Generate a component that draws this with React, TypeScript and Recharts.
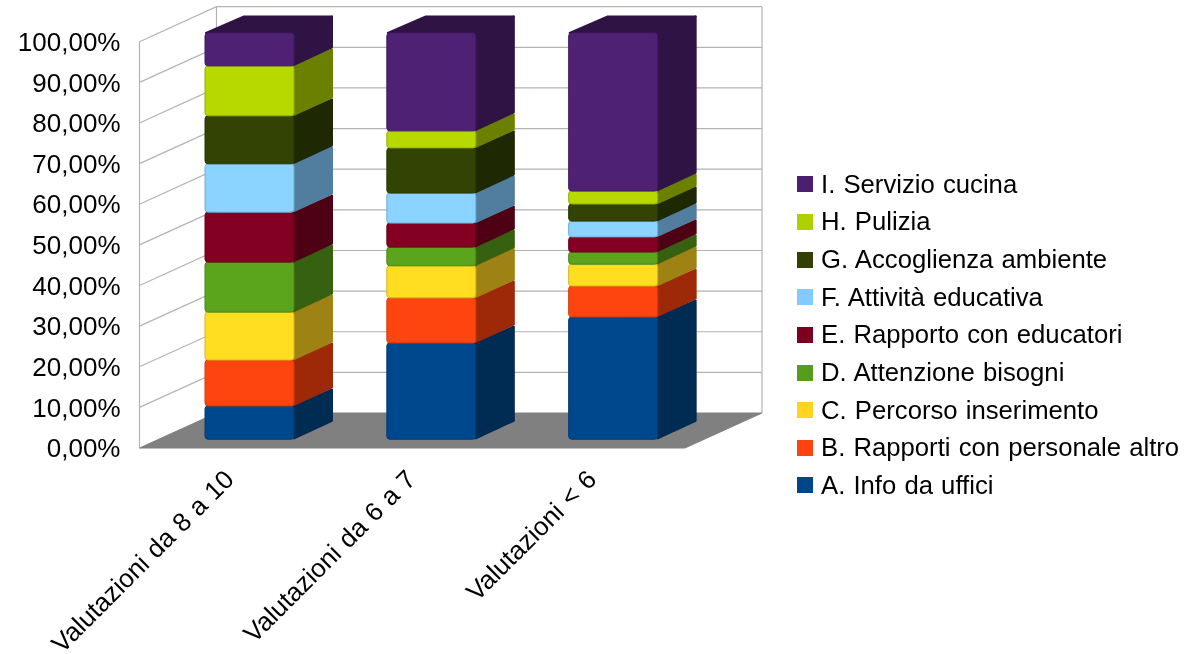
import React from 'react'
import { Bar, BarChart, CartesianGrid, Legend, XAxis, YAxis } from 'recharts'

const categories = ['Valutazioni da 8 a 10', 'Valutazioni da 6 a 7', 'Valutazioni < 6']
const seriesNames = [
    'A. Info da uffici',
    'B. Rapporti con personale altro',
    'C. Percorso inserimento',
    'D. Attenzione bisogni',
    'E. Rapporto con educatori',
    'F. Attività educativa',
    'G. Accoglienza ambiente',
    'H. Pulizia',
    'I. Servizio cucina',
]
const seriesColors = ['#004586', '#ff420e', '#ffd320', '#579d1c', '#7e0021', '#83caff', '#314004', '#aecf00', '#4b1f6f']
const infoUffici = [8.2, 23.7, 30.1]
const rapportiPersonale = [11.3, 11.1, 7.6]
const percorso = [11.8, 7.9, 5.4]
const attenzione = [12.3, 4.6, 3.0]
const educatori = [12.3, 5.9, 3.7]
const attivita = [11.9, 7.4, 3.9]
const accoglienza = [11.8, 11.1, 4.2]
const pulizia = [12.3, 4.2, 3.2]
const cucina = [8.1, 24.1, 38.9]
const seriesValues = [infoUffici, rapportiPersonale, percorso, attenzione, educatori, attivita, accoglienza, pulizia, cucina]
const yTicks = [0, 10, 20, 30, 40, 50, 60, 70, 80, 90, 100]

const FONT = '"Liberation Sans", Arial, sans-serif'
// depth of the fake 3D box, the bars stand halfway into it
const WALL_DX = 77
const WALL_DY = 35
const BAR_DX = 39
const BAR_DY = 17.5
const GRID = '#b3b3b3'
const labelShift = [5, 5, 4]

const data = categories.map((name, i) => {
    const row: any = { name }
    seriesNames.forEach((s, j) => {
        row[s] = seriesValues[j][i]
    })
    return row
})

const shade = (hex: string, k: number) => {
    const n = parseInt(hex.slice(1), 16)
    const c = [(n >> 16) & 255, (n >> 8) & 255, n & 255].map((v) => Math.min(255, Math.round(v * k)))
    return `rgb(${c[0]},${c[1]},${c[2]})`
}

const Block = (props: any) => {
    const { x, y, width, height, fill, isTop } = props
    const fx = x + BAR_DX / 2
    const fy = y - BAR_DY / 2
    const side = shade(fill, 0.62)
    // pulled in 1px with a 2px round stroke so the far corners look soft
    const farX = fx + width + BAR_DX - 1
    const farTop = fy - BAR_DY + 1
    const farBottom = fy + height - BAR_DY - 1
    return (
        <g>
            <polygon
                points={`${fx + width},${fy} ${farX},${farTop} ${farX},${farBottom} ${fx + width},${fy + height - 1}`}
                fill={side}
                stroke={side}
                strokeWidth={2}
                strokeLinejoin="round"
            />
            {isTop && (
                <polygon
                    points={`${fx + 1},${fy} ${fx + BAR_DX},${farTop} ${farX},${farTop} ${fx + width},${fy}`}
                    fill={side}
                    stroke={side}
                    strokeWidth={2}
                    strokeLinejoin="round"
                />
            )}
            <rect x={fx} y={fy} width={width} height={height} rx={3} fill={shade(fill, 1.05)} stroke={shade(fill, 0.85)} strokeWidth={1} />
        </g>
    )
}

const wallLine = (props: any) => {
    const { x1, x2, y1, index, key } = props
    const bx = x1 + WALL_DX
    const ex = x2 + WALL_DX
    const by = y1 - WALL_DY
    if (y1 > 440) {
        return (
            <polygon key={key ?? index} points={`${x1},${y1} ${x2},${y1} ${ex},${by} ${bx},${by}`} fill="#808080" stroke="#808080" />
        )
    }
    return (
        <g key={key ?? index}>
            <polyline points={`${x1},${y1} ${bx},${by} ${ex},${by}`} fill="none" stroke={GRID} strokeWidth={1.2} />
            {y1 < 50 && (
                <>
                    <line x1={x1} y1={y1} x2={x1} y2={y1 + 406.3} stroke={GRID} strokeWidth={1.2} />
                    <line x1={bx} y1={by} x2={bx} y2={by + 406.3} stroke={GRID} strokeWidth={1.2} />
                    <line x1={ex} y1={by} x2={ex} y2={by + 406.3} stroke={GRID} strokeWidth={1.2} />
                </>
            )}
        </g>
    )
}

const CategoryTick = (props: any) => {
    const { x, y, index, payload } = props
    const ex = x + labelShift[index]
    const ey = y + 25
    return (
        <text x={ex} y={ey} textAnchor="end" fontFamily={FONT} fontSize={26} wordSpacing={1} fill="#000" transform={`rotate(-45 ${ex} ${ey})`}>
            {payload.value}
        </text>
    )
}

const LegendList = ({ payload }: any) => {
    const rows = [...(payload || [])].sort((a: any, b: any) => (a.value < b.value ? 1 : -1))
    return (
        <div style={{ fontFamily: FONT, fontSize: 25.7, wordSpacing: 1, color: '#000' }}>
            {rows.map((r: any) => (
                <div key={r.value} style={{ height: 37.65, display: 'flex', alignItems: 'center', whiteSpace: 'pre' }}>
                    <span style={{ width: 16, height: 16, background: r.color, marginRight: 8, flex: 'none' }} />
                    {r.value}
                </div>
            ))}
        </div>
    )
}

const App = () => {
    return (
        <div style={{ position: 'fixed', left: 0, top: 0 }}>
            <BarChart
                width={1202}
                height={654}
                data={data}
                stackOffset="none"
                barSize={89}
                margin={{ top: 41.7, right: 117, left: 19.5, bottom: 16 }}
            >
                <CartesianGrid horizontal={wallLine} vertical={false} />
                <XAxis dataKey="name" height={190} axisLine={false} tickLine={false} interval={0} tick={<CategoryTick />} />
                <YAxis
                    width={120}
                    domain={[0, 100]}
                    ticks={yTicks}
                    axisLine={false}
                    tickLine={false}
                    tickSize={0}
                    tickMargin={19}
                    interval={0}
                    tickFormatter={(v: number) => `${v.toFixed(2).replace('.', ',')}%`}
                    tick={{ fontFamily: FONT, fontSize: 26, fill: '#000' }}
                />
                <Legend
                    layout="vertical"
                    align="right"
                    verticalAlign="top"
                    content={<LegendList />}
                    wrapperStyle={{ left: 797, top: 165.5, width: 400, right: 'auto' }}
                />
                {seriesNames.map((s, i) => (
                    <Bar
                        key={s}
                        dataKey={s}
                        stackId="a"
                        fill={seriesColors[i]}
                        isAnimationActive={false}
                        shape={(p: any) => <Block {...p} isTop={i === seriesNames.length - 1} />}
                    />
                ))}
            </BarChart>
        </div>
    )
}

export default App
